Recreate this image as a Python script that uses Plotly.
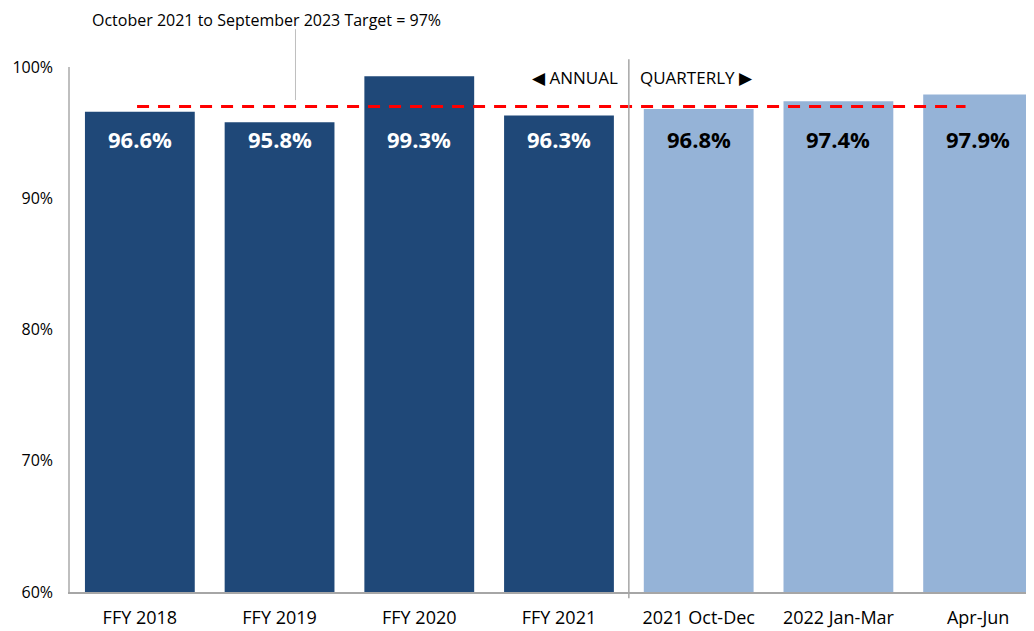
import plotly.graph_objects as go

# ── DATA ──────────────────────────────────────────────────────────────
categories = ["FFY 2018", "FFY 2019", "FFY 2020", "FFY 2021",
              "2021 Oct-Dec", "2022 Jan-Mar", "Apr-Jun"]
values = [96.6, 95.8, 99.3, 96.3, 96.8, 97.4, 97.9]
period = ["annual", "annual", "annual", "annual",
          "quarterly", "quarterly", "quarterly"]
target = 97
y_ticks = [60, 70, 80, 90, 100]

COLORS = {
    "annual":    "#1F4878",
    "quarterly": "#95B3D7",
    "target":    "#FF0000",
    "axis":      "#BFBFBF",
}
FONT = "Open Sans"

bar_colors = [COLORS[p] for p in period]
label_colors = ["white" if p == "annual" else "black" for p in period]

fig = go.Figure(go.Bar(
    x=categories, y=values,
    marker_color=bar_colors,
    marker_line_width=0,
    hoverinfo="x+y",
))

# value labels sit at a fixed height near the top of the bars
for cat, val, col in zip(categories, values, label_colors):
    fig.add_annotation(
        x=cat, y=94.5, text=f"<b>{val:.1f}%</b>",
        showarrow=False, xanchor="center", yanchor="middle",
        font=dict(family=FONT, size=22, color=col),
    )

# target line
fig.add_shape(
    type="line", xref="x", yref="y",
    x0=-0.02, x1=5.91, y0=target, y1=target,
    line=dict(color=COLORS["target"], width=3, dash="12px,9px"),
)

# annual / quarterly separator
fig.add_shape(
    type="line", xref="x", yref="paper",
    x0=3.5, x1=3.5, y0=-0.012, y1=1.015,
    line=dict(color="#A6A6A6", width=1.5),
)
fig.add_annotation(
    x=3.5, xref="x", y=1.0, yref="paper", xshift=-9,
    text="◀ ANNUAL", showarrow=False, xanchor="right", yanchor="middle",
    yshift=-10,
    font=dict(family=FONT, size=17, color="black"),
)
fig.add_annotation(
    x=3.5, xref="x", y=1.0, yref="paper", xshift=9,
    text="QUARTERLY ▶", showarrow=False, xanchor="left", yanchor="middle",
    yshift=-10,
    font=dict(family=FONT, size=17, color="black"),
)

# target callout with leader line
fig.add_annotation(
    x=-0.36, xref="x", y=1.09, yref="paper",
    text=f"October 2021 to September 2023 Target = {target}%",
    showarrow=False, xanchor="left", yanchor="middle",
    font=dict(family=FONT, size=16, color="black"),
)
fig.add_shape(
    type="line", xref="x", yref="paper",
    x0=1.114, x1=1.114, y0=0.937, y1=1.072,
    line=dict(color=COLORS["axis"], width=1),
)

fig.update_xaxes(
    range=[-0.5, 6.4],
    showline=True, linecolor="#A6A6A6", linewidth=1.5,
    ticks="outside", ticklen=9, tickcolor="rgba(0,0,0,0)",
    showgrid=False,
    tickfont=dict(family=FONT, size=18, color="black"),
)
fig.update_yaxes(
    range=[60, 100],
    tickvals=y_ticks, ticktext=[f"{t}%" for t in y_ticks],
    showline=True, linecolor=COLORS["axis"], linewidth=1.5,
    ticks="outside", ticklen=12, tickcolor="rgba(0,0,0,0)",
    showgrid=False, zeroline=False,
    tickfont=dict(family=FONT, size=16, color="black"),
)
# page body adds an 8px offset, so the figure is trimmed to fit the window
fig.update_layout(
    width=1026, height=623,
    bargap=0.214,
    showlegend=False,
    plot_bgcolor="white", paper_bgcolor="white",
    margin=dict(t=59, b=39, l=62, r=0),
)

fig.write_html("out.html")
